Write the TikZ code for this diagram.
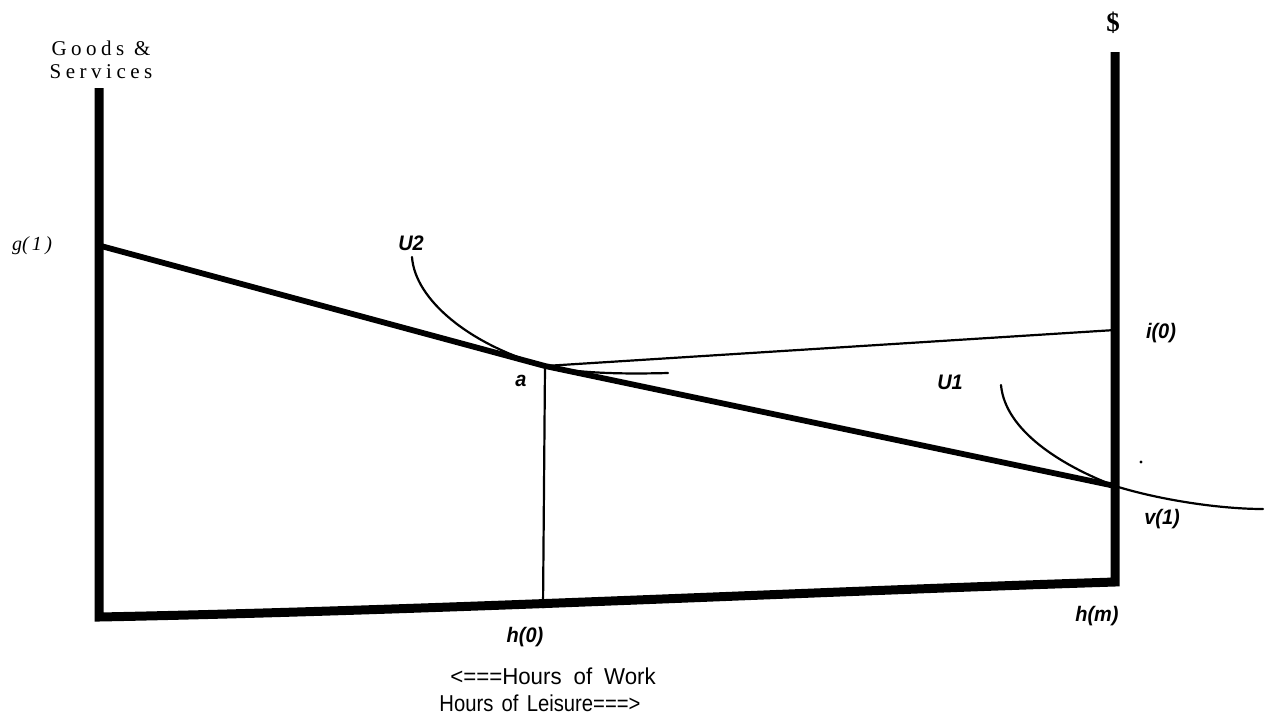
\documentclass[tikz,border=0pt]{standalone}
\usepackage{fontspec}
\setmainfont{Liberation Serif}
\setsansfont{Liberation Sans}
\newcommand{\lsp}{\hspace{4.5pt}}
\tikzset{
  axisline/.style={line width=9pt, line join=miter},
  budget/.style={line width=5.8pt, line cap=round},
  thinline/.style={line width=2.2pt},
  curveline/.style={line width=2.2pt, line cap=round},
  lbl/.style={font=\sffamily\bfseries\itshape\fontsize{21}{24}\selectfont, inner sep=0pt, xscale=0.95},
  ttl/.style={font=\rmfamily\fontsize{21}{24}\selectfont, inner sep=0pt, align=center},
  note/.style={font=\sffamily\fontsize{23}{26}\selectfont, inner sep=0pt, xscale=0.88}
}
\begin{document}
\begin{tikzpicture}[x=1pt,y=-1pt]
\useasboundingbox (0,0) rectangle (1271,718);
% points
\coordinate (LT) at (99,88);
\coordinate (LB) at (99,617);
\coordinate (RB) at (1115,582);
\coordinate (RT) at (1115,52);
\coordinate (G1) at (101,246);
\coordinate (A) at (545,366);
\coordinate (V1) at (1115,486);
\coordinate (I0) at (1115,330);
\coordinate (H0) at (543,608);
% axes
\draw[axisline] (LT) -- (LB) .. controls (450,610) and (800,592) .. (RB) -- (RT);
% budget line
\draw[budget] (G1) -- (A) -- (V1);
% vertical from a
\draw[thinline] (A) -- (H0);
% line to i(0)
\draw[thinline] (A) -- (I0);
% U2 indifference curve
\draw[curveline] (412,257) .. controls (415,300) and (470,345) .. (A)
  .. controls (580,374) and (630,374) .. (668,373);
% U1 indifference curve
\draw[curveline] (1001,385) .. controls (1005,430) and (1060,465) .. (V1)
  .. controls (1160,500) and (1220,509) .. (1263,509);
% small dot
\fill (1141,462) circle (1.6pt);
% labels
\node[ttl] (gs) at (101,60) {G\lsp o\lsp o\lsp d\lsp s \lsp\&\\[-1pt]S\lsp e\lsp r\lsp v\lsp i\lsp c\lsp e\lsp s};
\node[font=\rmfamily\bfseries\fontsize{27}{28}\selectfont, inner sep=0pt] (dol) at (1113,23) {\$};
\node[font=\rmfamily\itshape\fontsize{20}{22}\selectfont, inner sep=0pt] (g1) at (32,246) {g(\,1\,)};
\node[lbl] (u2) at (411,243) {U2};
\node[lbl] (a) at (521,381) {a};
\node[lbl] (i0) at (1161,333) {i(0)};
\node[lbl] (u1) at (950,382) {U1};
\node[lbl] (v1) at (1162,519) {v(1)};
\node[lbl] (hm) at (1097,616) {h(m)};
\node[lbl] (h0) at (525,637) {h(0)};
\node[note, xscale=1.1] (w) at (553,676) {<===Hours\hspace{6pt} of\hspace{6pt} Work};
\node[note] (l) at (540,703) {Hours\hspace{3pt} of\hspace{3pt} Leisure===>};
\end{tikzpicture}
\end{document}
